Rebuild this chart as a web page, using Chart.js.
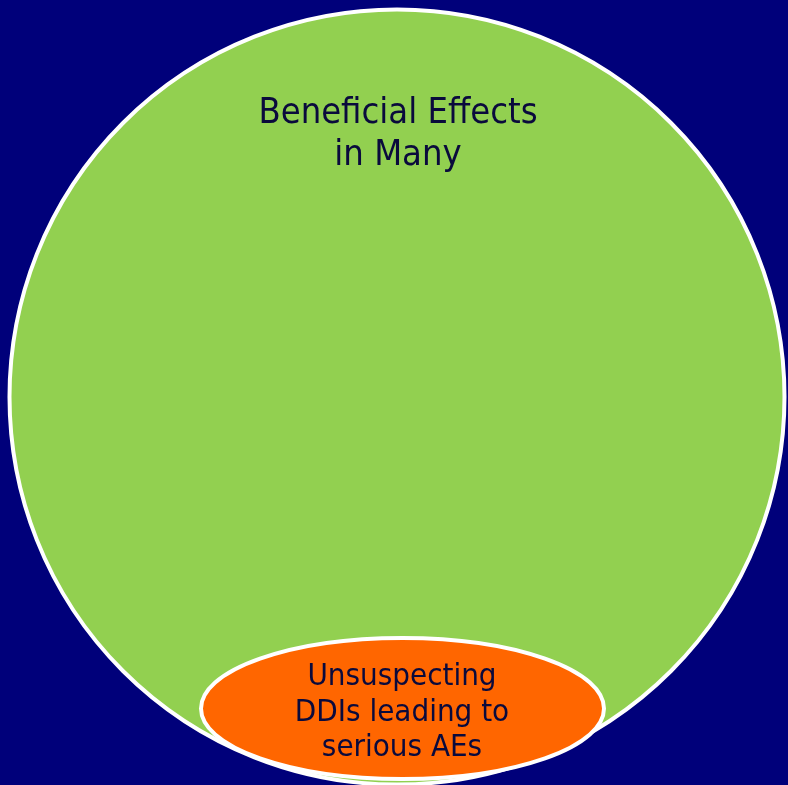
<!DOCTYPE html>
<html>
<head>
<meta charset="utf-8">
<script src="https://cdn.jsdelivr.net/npm/chart.js@4/dist/chart.umd.min.js"></script>
<style>
    html, body { margin: 0; padding: 0; background: #00007a; }
    #wrap { width: 788px; height: 785px; }
</style>
</head>
<body>
<div id="wrap"><canvas id="venn"></canvas></div>
<script>
// shapes in page units (x to the right, y downward)
const shapeNames = ["Beneficial Effects in Many", "Unsuspecting DDIs leading to serious AEs"];
const centerX = [397, 402.5];
const centerY = [397, 708.5];
const radiusX = [387.5, 201.5];
const radiusY = [387.5, 70.5];
const fills = ["#92d050", "#ff6600"];

// labels: lines and their positions
const labelLines = [
    ["Beneficial Effects", "in Many"],
    ["Unsuspecting", "DDIs leading to", "serious AEs"]
];
const labelX = [398, 402];
const labelY = [114, 677];
const labelLineHeight = [42, 35.5];
const labelSize = [36, 31];

const ellipsePlugin = {
    id: "ellipses",
    afterDatasetsDraw(chart) {
        const ctx = chart.ctx;
        const xs = chart.scales.x;
        const ys = chart.scales.y;

        centerX.forEach((cx, i) => {
            const px = xs.getPixelForValue(cx);
            const py = ys.getPixelForValue(centerY[i]);
            const rx = Math.abs(xs.getPixelForValue(cx + radiusX[i]) - px);
            const ry = Math.abs(ys.getPixelForValue(centerY[i] + radiusY[i]) - py);

            ctx.save();
            ctx.beginPath();
            ctx.ellipse(px, py, rx, ry, 0, 0, Math.PI * 2);
            ctx.fillStyle = fills[i];
            ctx.fill();
            ctx.lineWidth = 4;
            ctx.strokeStyle = "#ffffff";
            ctx.stroke();
            ctx.restore();
        });

        labelLines.forEach((lines, i) => {
            ctx.save();
            ctx.fillStyle = "#0a0a3c";
            ctx.font = labelSize[i] + "px 'DejaVu Sans Condensed', 'DejaVu Sans'";
            ctx.textAlign = "center";
            ctx.textBaseline = "middle";
            lines.forEach((line, j) => {
                ctx.fillText(line,
                    xs.getPixelForValue(labelX[i]),
                    ys.getPixelForValue(labelY[i] + j * labelLineHeight[i]));
            });
            ctx.restore();
        });
    }
};

new Chart(document.getElementById("venn"), {
    type: "scatter",
    data: {
        datasets: [{
            label: "centres",
            data: centerX.map((x, i) => ({ x: x, y: centerY[i] })),
            pointRadius: 0
        }]
    },
    options: {
        responsive: true,
        maintainAspectRatio: false,
        animation: false,
        layout: { padding: 0 },
        plugins: {
            legend: { display: false },
            tooltip: { enabled: false }
        },
        scales: {
            x: { type: "linear", min: 0, max: 788, display: false },
            y: { type: "linear", min: 0, max: 785, reverse: true, display: false }
        }
    },
    plugins: [ellipsePlugin]
});
</script>
</body>
</html>
